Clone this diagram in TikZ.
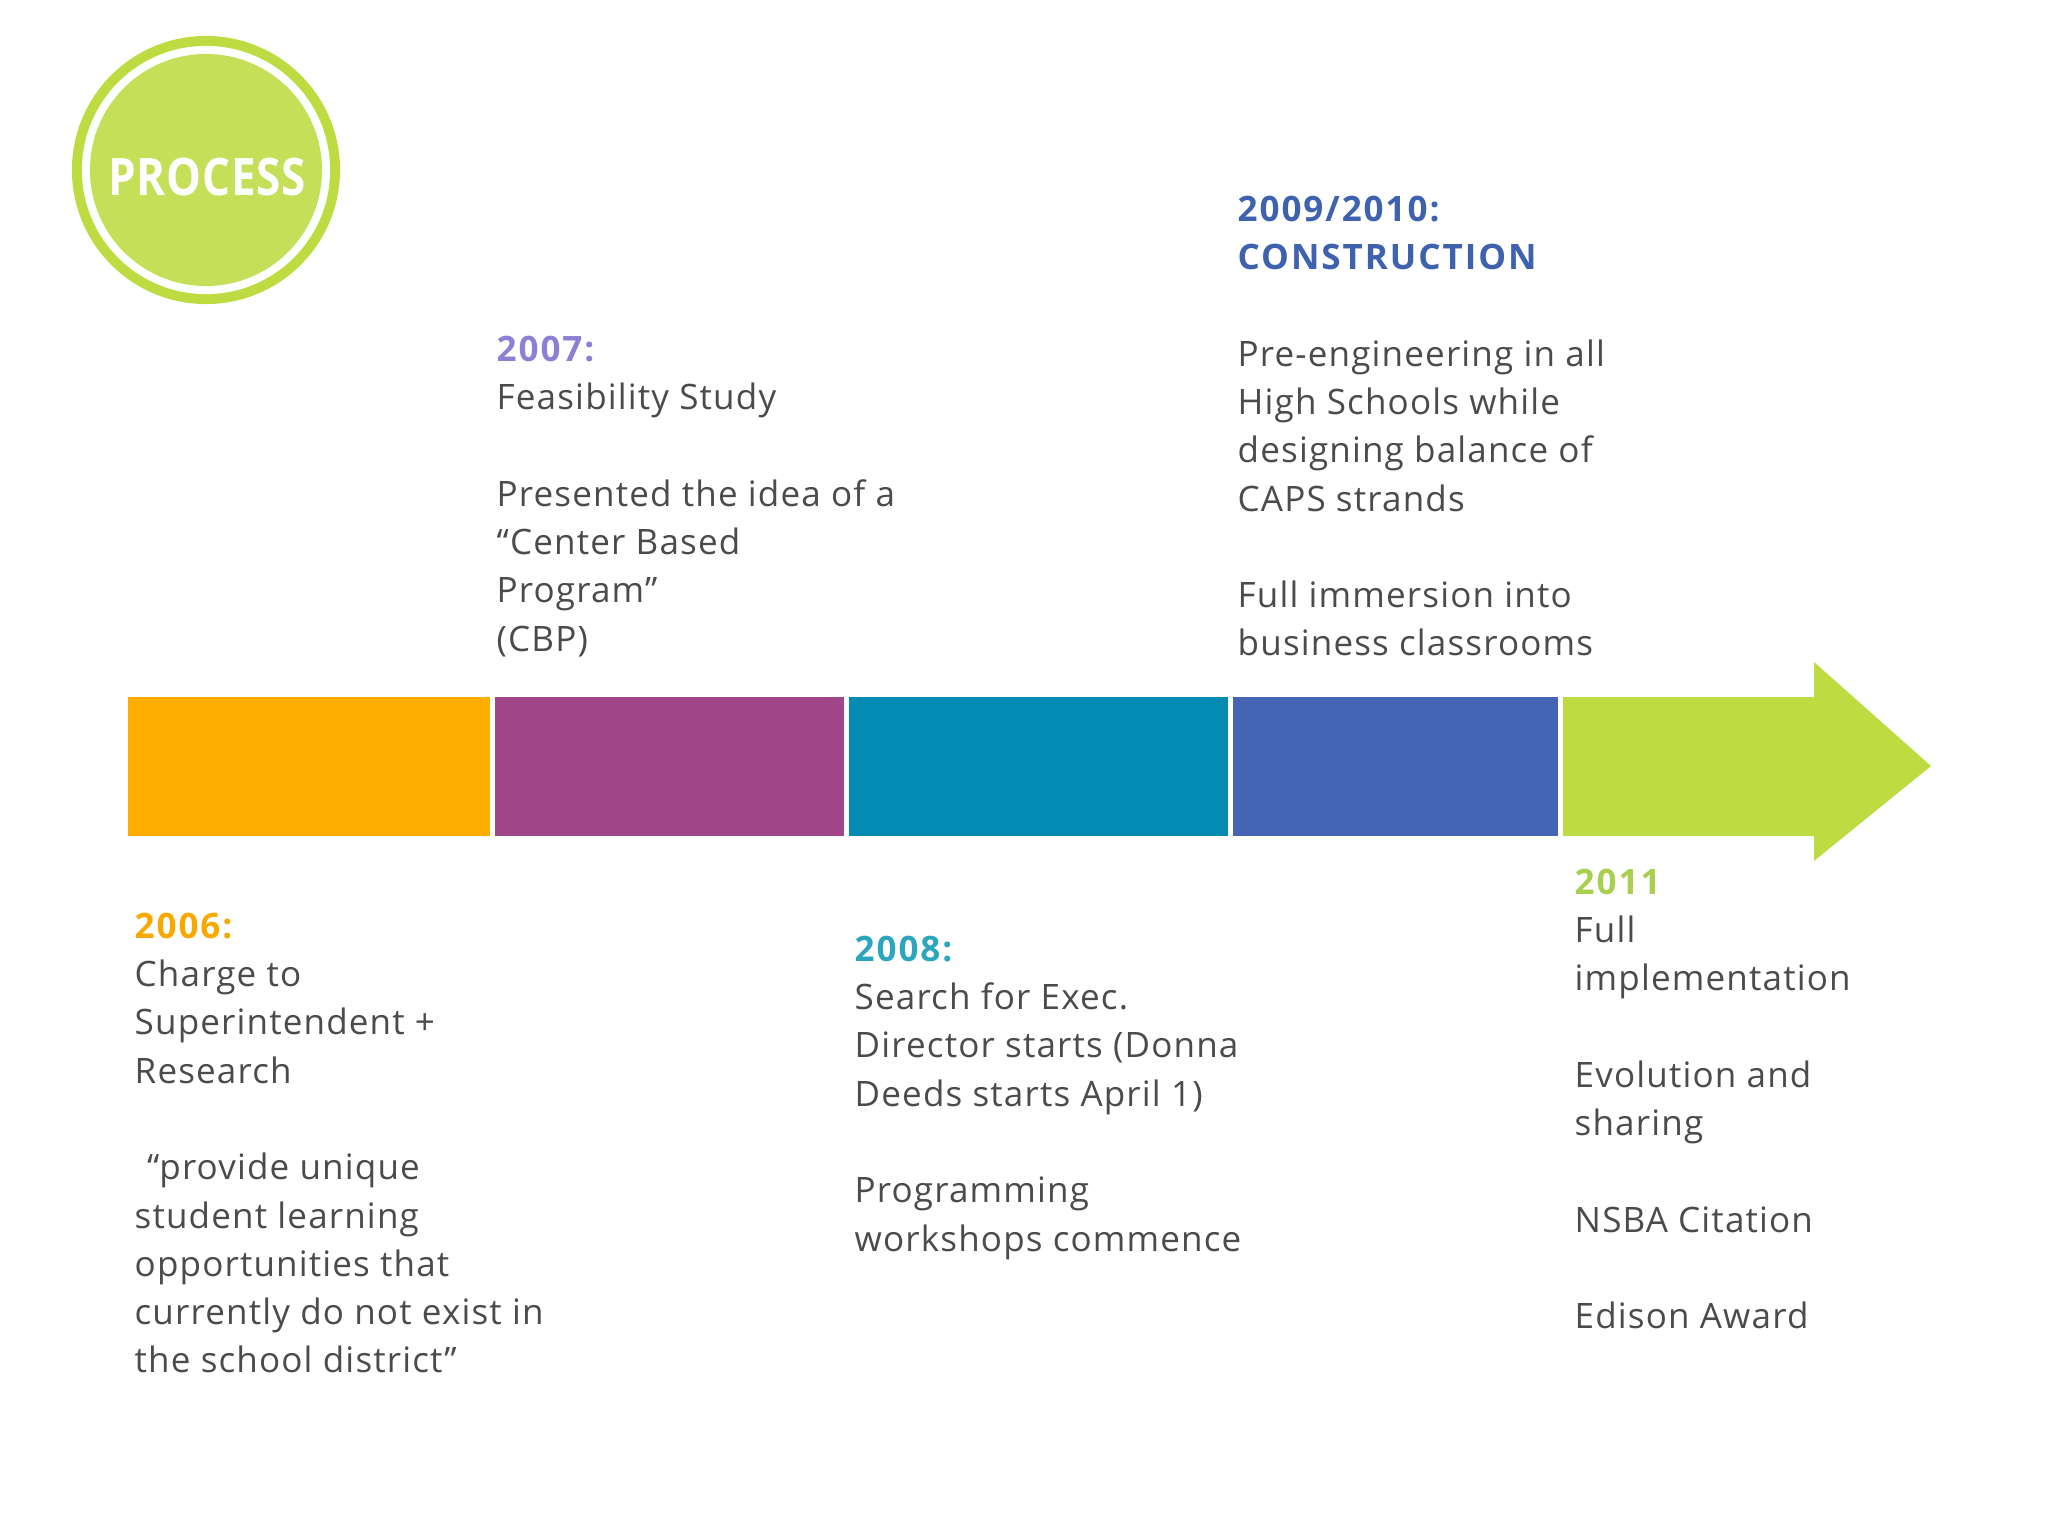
\documentclass[tikz,border=0pt]{standalone}
\usepackage{fontspec}
\setmainfont{Open Sans}[LetterSpace=3.3]
\usepackage{tikz}

\definecolor{barorange}{HTML}{FFAE00}
\definecolor{barpurple}{HTML}{A04688}
\definecolor{barteal}{HTML}{038BB3}
\definecolor{barblue}{HTML}{4565B4}
\definecolor{bargreen}{HTML}{BEDC41}
\definecolor{badgein}{HTML}{C6DF59}
\definecolor{headorange}{HTML}{F7A900}
\definecolor{headlilac}{HTML}{8C80D4}
\definecolor{headteal}{HTML}{2CA5BE}
\definecolor{headblue}{HTML}{3E62AE}
\definecolor{headgreen}{HTML}{A9CF4F}
\definecolor{bodygray}{HTML}{4B4B4B}

\newcommand{\yearhead}[2]{{\bfseries\addfontfeature{LetterSpace=5.5}\color{#1}#2}}
\newcommand{\gap}{\\[13.74pt]}

\begin{document}
\begin{tikzpicture}[x=0.01cm, y=-0.01cm,
	block/.style={anchor=north west, inner sep=0pt, align=left, text=bodygray,
		font=\fontsize{9.96pt}{13.74pt}\selectfont}]
	
	\useasboundingbox (0,0) rectangle (2048,1536);
	
	% Process badge
	\fill[bargreen] (206,170) circle[radius=1.34cm];
	\fill[white] (206,170) circle[radius=1.24cm];
	\fill[badgein] (206,170) circle[radius=1.16cm];
	\node[text=white, xscale=0.85, font=\fontsize{14.7pt}{16pt}\selectfont\bfseries\addfontfeature{LetterSpace=2}] (badge) at (207,177) {PROCESS};
	
	% Draw timeline bars
	\fill[barorange] (128,697) rectangle (490,836);
	\fill[barpurple] (495,697) rectangle (844,836);
	\fill[barteal] (849,697) rectangle (1228,836);
	\fill[barblue] (1233,697) rectangle (1558,836);
	
	% Draw arrow
	\fill[bargreen] (1563,697) -- (1814,697) -- (1814,662) -- (1931,766) -- (1814,861) -- (1814,836) -- (1563,836) -- cycle;
	
	% Label years above the bar
	\node[block] (y2007) at (496,335) {\yearhead{headlilac}{2007:}\\Feasibility Study\gap
		Presented the idea of a\\“Center Based\\Program”\\(CBP)};
	\node[block] (y2009) at (1237,195) {\yearhead{headblue}{2009/2010:}\\\yearhead{headblue}{CONSTRUCTION}\gap
		Pre-engineering in all\\High Schools while\\designing balance of\\CAPS strands\gap
		Full immersion into\\business classrooms};
	
	% Label years below the bar
	\node[block] (y2006) at (134,912) {\yearhead{headorange}{2006:}\\Charge to\\Superintendent +\\Research\gap
		\hspace*{3.5pt}“provide unique\\student learning\\opportunities that\\currently do not exist in\\the school district”};
	\node[block] (y2008) at (854,935) {\yearhead{headteal}{2008:}\\Search for Exec.\\Director starts (Donna\\Deeds starts April 1)\gap
		Programming\\workshops commence};
	\node[block] (y2011) at (1574,868) {\yearhead{headgreen}{2011}\\Full\\implementation\gap
		Evolution and\\sharing\gap NSBA Citation\gap Edison Award};
	
\end{tikzpicture}
\end{document}
